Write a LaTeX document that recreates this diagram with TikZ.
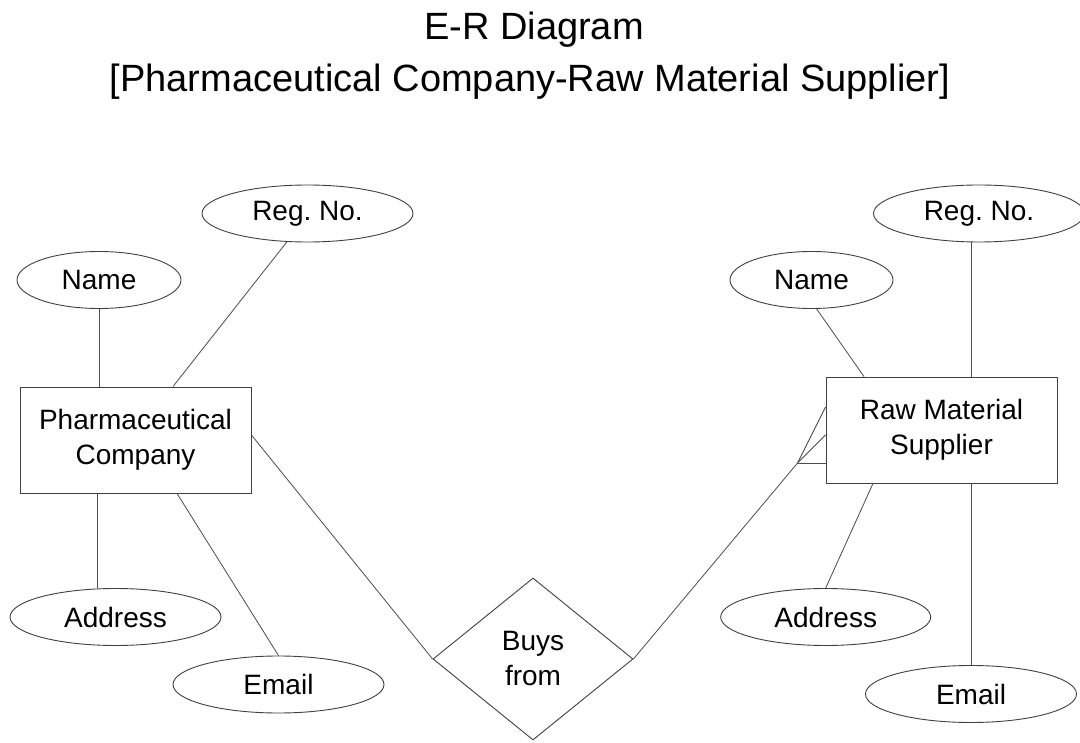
\documentclass[tikz,border=0pt]{standalone}
\usepackage{fontspec}
\setmainfont{Liberation Sans}
\usetikzlibrary{shapes.geometric,calc}
\frenchspacing
\begin{document}
\begin{tikzpicture}[x=1pt,y=-1pt,
  line width=0.9pt,
  every node/.style={font=\fontsize{28}{35}\selectfont, text=black},
  attr/.style={draw=black!75, ellipse, inner sep=0pt, minimum width=211pt, minimum height=57pt},
  ent/.style={draw=black!75, rectangle, inner sep=0pt, minimum width=231pt, minimum height=106pt, align=center},
  rel/.style={draw=black!75, diamond, inner sep=0pt, minimum width=200pt, minimum height=162pt, align=center},
  conn/.style={draw=black!70, line width=0.8pt},
  titletext/.style={font=\fontsize{38}{48}\selectfont, anchor=base, inner sep=0pt}
]
\useasboundingbox[fill=white] (0,0) rectangle (1080,743);
\node[titletext] (t1) at (534,40) {E-R Diagram};
\node[titletext] (t2) at (530,92) {[Pharmaceutical Company-Raw Material Supplier]};

% left entity
\node[ent] (pc) at (135.5,440) {Pharmaceutical\\Company};
\node[attr, minimum width=164pt] (nameL) at (99,280) {Name};
\node[attr] (regL) at (307.5,213.5) {Reg.\ No.};
\node[attr] (addrL) at (115.5,617) {Address};
\node[attr] (emailL) at (278.5,684.5) {Email};

% right entity
\node[ent] (rms) at (941.5,430) {Raw Material\\Supplier};
\node[attr, minimum width=163pt] (nameR) at (811.5,280) {Name};
\node[attr] (regR) at (979,213.5) {Reg.\ No.};
\node[attr, minimum width=210pt] (addrR) at (825.7,617) {Address};
\node[attr] (emailR) at (971,694) {Email};

% relationship
\node[rel] (buys) at (533,659) {Buys\\from};

% left connectors
\draw[conn] (nameL.south) -- (nameL.south |- pc.north);
\draw[conn] (regL.234) -- ([xshift=37.5pt]pc.north);
\draw[conn] ([xshift=-38.5pt]pc.south) -- ([xshift=-38.5pt]pc.south |- addrL.north);
\draw[conn] ([xshift=41.5pt]pc.south) -- (emailL.north);
\draw[conn] ([yshift=5pt]pc.east) -- (buys.west);

% right connectors
\draw[conn] (nameR.280) -- ([xshift=-77.5pt]rms.north);
\draw[conn] (emailR.north |- regR.south) -- (emailR.north |- rms.north);
\draw[conn] (emailR.north |- rms.south) -- (emailR.north);
\draw[conn] (addrR.north) -- ([xshift=-68.5pt]rms.south);

% crow's foot
\coordinate (crow) at ([xshift=-28pt,yshift=-33pt]rms.west);
\draw[conn] (buys.east) -- (crow);
\draw[conn] (crow) -- ([yshift=23pt]rms.west);
\draw[conn] (crow) -- ([yshift=-5pt]rms.west);
\draw[conn] (crow) -- ([yshift=-33pt]rms.west);
\end{tikzpicture}
\end{document}
